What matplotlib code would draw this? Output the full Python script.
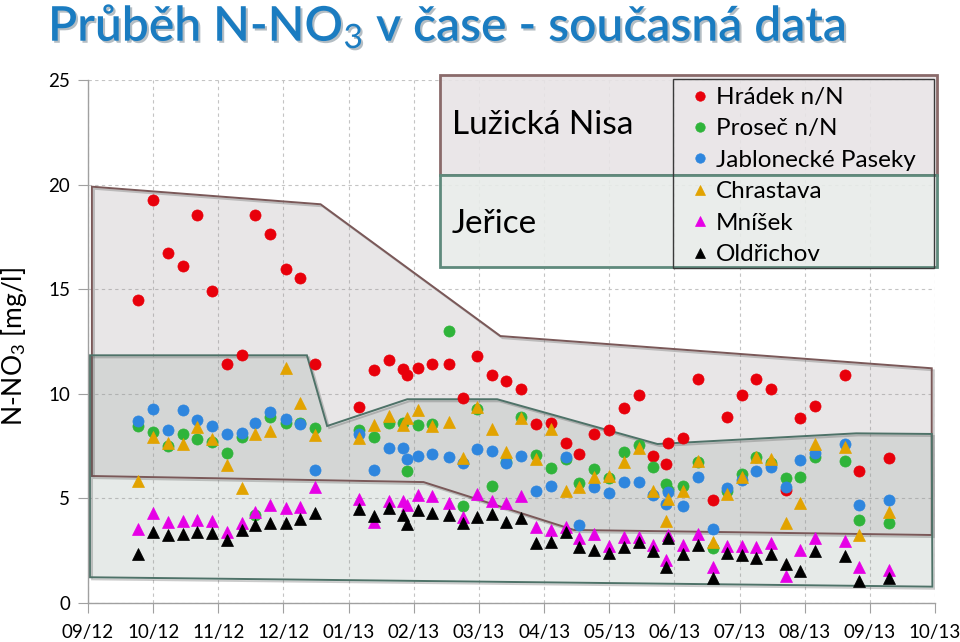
import numpy as np
import pandas as pd
import matplotlib
matplotlib.use("Agg")
import matplotlib.pyplot as plt
from matplotlib.patches import Polygon, Rectangle
import matplotlib.patheffects as pe

plt.rcParams['font.family'] = ['Lato', 'DejaVu Sans']
plt.rcParams['mathtext.fontset'] = 'custom'
plt.rcParams['mathtext.rm'] = 'Lato'
plt.rcParams['mathtext.it'] = 'Lato:italic'
plt.rcParams['mathtext.bf'] = 'Lato:bold'

# ---------------- data ----------------
dates = ['2012-09-24', '2012-10-01', '2012-10-08', '2012-10-15', '2012-10-22', '2012-10-29',
         '2012-11-05', '2012-11-12', '2012-11-18', '2012-11-25', '2012-12-02', '2012-12-09',
         '2012-12-16', '2013-01-06', '2013-01-13', '2013-01-20', '2013-01-27', '2013-01-29',
         '2013-02-03', '2013-02-09', '2013-02-16', '2013-02-22', '2013-02-28', '2013-03-07',
         '2013-03-14', '2013-03-21', '2013-03-28', '2013-04-04', '2013-04-11', '2013-04-17',
         '2013-04-24', '2013-05-01', '2013-05-08', '2013-05-15', '2013-05-22', '2013-05-28',
         '2013-05-29', '2013-06-05', '2013-06-12', '2013-06-19', '2013-06-25', '2013-07-02',
         '2013-07-09', '2013-07-16', '2013-07-23', '2013-07-30', '2013-08-06', '2013-08-20',
         '2013-08-27', '2013-09-10']

month_labels = ['09/12', '10/12', '11/12', '12/12', '01/13', '02/13', '03/13',
                '04/13', '05/13', '06/13', '07/13', '08/13', '09/13', '10/13']

hradek = [14.5, 19.26, 16.75, 16.13, 18.55, 14.91, 11.41, 11.84, 18.55, 17.64, 15.95, 15.55,
          11.41, 9.38, 11.14, 11.62, 11.17, 10.9, 11.22, 11.41, 11.41, 9.78, 11.81, 10.91,
          10.63, 10.21, 8.56, 8.62, 7.63, 7.12, 8.08, 8.27, 9.34, 9.94, 7.03, 6.63,
          7.63, 7.87, 10.71, 4.92, 8.88, 9.94, 10.71, 10.21, 5.4, 8.86, 9.42, 10.9,
          6.33, 6.92]
prosec = [8.48, 8.19, 7.5, 8.08, 7.86, 7.71, 7.16, 7.92, 4.21, 8.88, 8.59, 8.6,
          8.35, 8.27, 7.92, 8.59, 8.59, 6.33, 8.51, 8.54, 13.02, 4.65, 9.27, 5.61,
          6.75, 8.88, 7.07, 6.44, 6.9, 5.72, 6.39, 5.96, 7.23, 7.55, 6.52, 5.69,
          5.4, 5.6, 6.75, 2.61, 5.35, 6.17, 7.0, 6.7, 5.96, 6.01, 6.96, 6.8,
          3.97, 3.84]
jablonecke = [8.71, 9.26, 8.27, 9.23, 8.75, 8.46, 8.08, 8.11, 8.59, 9.15, 8.78, 8.56,
              6.36, 8.08, 6.36, 7.39, 7.42, 6.87, 7.03, 7.12, 6.99, 6.68, 7.35, 7.27,
              6.71, 7.03, 5.37, 5.59, 6.96, 3.73, 5.56, 5.27, 5.77, 5.77, 5.16, 4.73,
              5.32, 4.65, 6.04, 3.52, 5.48, 5.88, 6.33, 6.52, 5.56, 6.84, 7.19, 7.6,
              4.68, 4.92]
chrastava = [5.83, 7.92, 7.63, 7.59, 8.43, 7.82, 6.58, 5.48, 8.08, 8.24, 11.22, 9.57,
             8.03, 7.87, 8.51, 8.94, 8.51, 8.86, 9.23, 8.48, 8.67, 6.92, 9.35, 8.3,
             7.23, 8.86, 6.87, 8.3, 5.37, 5.56, 6.04, 6.07, 6.75, 7.39, 5.37, 3.94,
             4.97, 5.37, 6.8, 2.93, 5.21, 6.0, 7.0, 6.87, 3.81, 4.77, 7.6, 7.44,
             3.25, 4.36]
mnisek = [3.52, 4.29, 3.89, 3.94, 3.97, 3.94, 3.41, 3.81, 4.33, 4.68, 4.53, 4.61,
          5.55, 4.96, 3.87, 4.89, 4.89, 4.68, 5.16, 5.13, 4.8, 4.13, 5.21, 4.89,
          4.8, 5.11, 3.62, 3.49, 3.62, 3.12, 3.28, 2.72, 3.17, 3.17, 2.77, 2.06,
          3.25, 2.77, 3.3, 1.7, 2.72, 2.72, 2.69, 2.88, 1.29, 2.53, 3.09, 2.98,
          1.74, 1.58]
oldrichov = [2.34, 3.41, 3.25, 3.28, 3.38, 3.33, 3.01, 3.49, 3.73, 3.84, 3.84, 4.0,
             4.32, 4.48, 4.16, 4.53, 4.21, 3.78, 4.45, 4.29, 4.21, 3.84, 4.1, 4.24,
             3.89, 4.05, 2.85, 2.93, 3.41, 2.69, 2.53, 2.38, 2.66, 2.93, 2.5, 1.74,
             3.09, 2.36, 2.77, 1.18, 2.38, 2.29, 2.14, 2.34, 1.86, 1.54, 2.5, 2.25,
             1.07, 1.18]

series_names = ['Hrádek n/N', 'Proseč n/N', 'Jablonecké Paseky', 'Chrastava', 'Mníšek', 'Oldřichov']
series_values = [hradek, prosec, jablonecke, chrastava, mnisek, oldrichov]
series_colors = ['#e8000b', '#2fb43a', '#2e86de', '#e2a300', '#e600e6', '#000000']
series_markers = ['o', 'o', 'o', '^', '^', '^']

# shaded ranges (month index, mg/l)
nisa_range_x = [0.06, 3.57, 6.33, 12.95, 12.95, 7.46, 5.15, 0.06]
nisa_range_y = [19.9, 19.06, 12.76, 11.22, 3.25, 3.49, 5.78, 6.07]
jerice_range_x = [0.03, 3.36, 3.67, 4.90, 6.28, 8.74, 11.79, 12.95, 12.96, 0.03]
jerice_range_y = [11.84, 11.84, 8.46, 9.74, 9.74, 7.60, 8.11, 8.08, 0.78, 1.23]


def month_pos(d):
    t = pd.Timestamp(d)
    return (t.year - 2012) * 12 + (t.month - 9) + (t.day - 1) / t.days_in_month


x = np.array([month_pos(d) for d in dates])

# ---------------- figure ----------------
fig = plt.figure(figsize=(9.6, 6.42), dpi=100)
ax = fig.add_axes([88 / 960, 39 / 642, 847 / 960, 523 / 642])
ax.set_xlim(0, 13)
ax.set_ylim(0, 25)
ax.set_axisbelow(True)

ax.grid(True, color='#c4c4c4', linestyle=(0, (3, 3)), linewidth=0.8)

nisa_xy = np.column_stack([nisa_range_x, nisa_range_y])
jer_xy = np.column_stack([jerice_range_x, jerice_range_y])
shadow = [pe.SimpleLineShadow(offset=(1.5, -1.5), alpha=0.3, shadow_color='#555555'), pe.Normal()]

ax.add_patch(Polygon(nisa_xy, closed=True, facecolor=(0.60, 0.56, 0.58, 0.22),
                     edgecolor='none', zorder=1))
ax.add_patch(Polygon(jer_xy, closed=True, facecolor=(0.55, 0.61, 0.58, 0.21),
                     edgecolor='none', zorder=1.1))
ax.add_patch(Polygon(nisa_xy, closed=True, facecolor='none', edgecolor='#7a5858',
                     linewidth=1.4, zorder=1.2, path_effects=shadow))
ax.add_patch(Polygon(jer_xy, closed=True, facecolor='none', edgecolor='#4e7268',
                     linewidth=1.4, zorder=1.3, path_effects=shadow))

handles = []
for name, vals, col, mk in zip(series_names, series_values, series_colors, series_markers):
    ms = 8.0 if mk == 'o' else 8.4
    h, = ax.plot(x, vals, linestyle='none', marker=mk, markersize=ms,
                 markerfacecolor=col, markeredgecolor=col, markeredgewidth=0.5,
                 label=name, zorder=3)
    handles.append(h)

ax.set_xticks(np.arange(len(month_labels)))
ax.set_xticklabels(month_labels)
ax.set_yticks(np.arange(0, 26, 5))
ax.tick_params(axis='both', direction='out', length=7, width=0.8, color='#a0a0a0',
               labelsize=13.5)
ax.tick_params(axis='x', pad=8)
ax.tick_params(axis='y', pad=6)
for s in ['top', 'right']:
    ax.spines[s].set_visible(False)
for s in ['left', 'bottom']:
    ax.spines[s].set_color('#a0a0a0')
    ax.spines[s].set_linewidth(1.0)

# ---------------- legend boxes ----------------
box_upper = Rectangle((440 / 960, (642 - 175) / 642), 497 / 960, 100 / 642,
                      transform=fig.transFigure, facecolor=(0.91, 0.895, 0.90, 0.9),
                      edgecolor='#8a6a6a', linewidth=2.0, zorder=2)
box_lower = Rectangle((440 / 960, (642 - 267) / 642), 497 / 960, 92 / 642,
                      transform=fig.transFigure, facecolor=(0.91, 0.925, 0.915, 0.9),
                      edgecolor='#5f8a7c', linewidth=2.0, zorder=2.1)
frame = Rectangle((673 / 960, (642 - 268) / 642), 261 / 960, 189 / 642,
                  transform=fig.transFigure, facecolor='none',
                  edgecolor='#3a3a3a', linewidth=1.0, zorder=2.2)
for p in (box_upper, box_lower, frame):
    fig.add_artist(p)

fig.text(452 / 960, (642 - 125) / 642, 'Lužická Nisa', fontsize=24, va='center',
         ha='left', color='black', zorder=3)
fig.text(452 / 960, (642 - 224) / 642, 'Jeřice', fontsize=24, va='center',
         ha='left', color='black', zorder=3)

leg = fig.legend(handles=handles, labels=series_names, loc='upper left',
                 bbox_to_anchor=(688 / 960, (642 - 87) / 642),
                 frameon=False, borderpad=0, borderaxespad=0, handlelength=1.0,
                 handletextpad=0.16, labelspacing=0.43, fontsize=17.5, markerscale=0.85)
leg.set_zorder(4)

# ---------------- titles ----------------
fig.text(48 / 960, (642 - 26) / 642, 'Průběh N-NO$_3$ v čase - současná data',
         fontsize=34.5, fontweight='semibold', color='#1a7cc1', va='center', ha='left',
         path_effects=[pe.withSimplePatchShadow(offset=(1.5, -1.5), alpha=0.3)])
fig.text(14 / 960, (642 - 347) / 642, 'N-NO$_3$ [mg/l]', fontsize=19, rotation=90,
         va='center', ha='center')

fig.savefig('out.png', dpi=100)
